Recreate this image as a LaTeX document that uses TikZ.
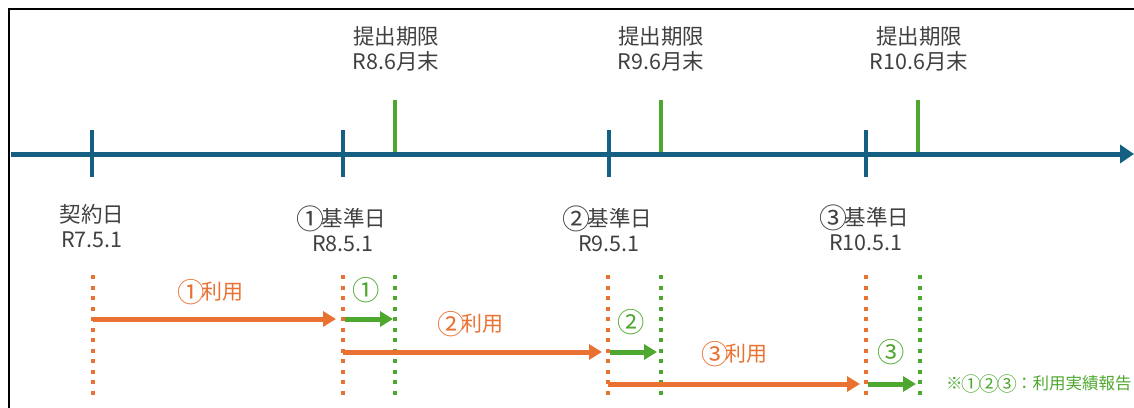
\documentclass[tikz,border=0pt]{standalone}
\usepackage{fontspec}
\setmainfont{Noto Sans CJK JP}
\usetikzlibrary{arrows.meta}
\definecolor{tlblue}{HTML}{156082}
\definecolor{ogreen}{HTML}{4EA72E}
\definecolor{oorange}{HTML}{E97132}
\definecolor{txtgray}{HTML}{404040}
\newcommand{\cnum}[1]{\hspace{-0.15em}\raisebox{-0.12em}{\scalebox{1.3}{#1}}\hspace{-0.15em}}
\newcommand{\cnumsm}[1]{\hspace{-0.06em}\raisebox{-0.1em}{\scalebox{1.2}{#1}}\hspace{-0.06em}}
\tikzset{
  lbl/.style={align=center, text=txtgray, inner sep=0pt, font=\fontsize{21.5}{25}\selectfont},
  olbl/.style={inner sep=0pt, text=oorange, font=\fontsize{21}{24}\selectfont},
  glbl/.style={inner sep=0pt, text=ogreen, font=\fontsize{21}{24}\selectfont},
  btick/.style={draw=tlblue, line width=4.5pt},
  gtick/.style={draw=ogreen, line width=4.5pt},
  odots/.style={draw=oorange, line width=4pt, dash pattern=on 4pt off 6.5pt},
  gdots/.style={draw=ogreen, line width=4pt, dash pattern=on 4pt off 6.5pt},
  oarr/.style={draw=oorange, line width=5pt, -{Triangle[length=13pt,width=15pt]}},
  garr/.style={draw=ogreen, line width=5pt, -{Triangle[length=13pt,width=15pt]}},
}
\begin{document}
\begin{tikzpicture}[x=1pt,y=-1pt]
\useasboundingbox (0,0) rectangle (1134,407);
% frame
\coordinate (fbl) at (9,420);
\coordinate (ftl) at (9,9);
\coordinate (ftr) at (1150,9);
\draw[line width=2pt, black] (fbl) -- (ftl) -- (ftr);
% timeline
\coordinate (tls) at (11,154);
\coordinate (tle) at (1134,154);
\draw[draw=tlblue, line width=5pt, -{Triangle[length=14pt,width=18pt]}] (tls) -- (tle);
% blue ticks
\foreach \n/\x in {a/92,b/343,c/609,d/866}{
  \coordinate (bt\n1) at (\x,130);
  \coordinate (bt\n2) at (\x,177);
  \draw[btick] (bt\n1) -- (bt\n2);
}
% green ticks
\foreach \n/\x in {a/395,b/661,c/918}{
  \coordinate (gt\n1) at (\x,100);
  \coordinate (gt\n2) at (\x,152);
  \draw[gtick] (gt\n1) -- (gt\n2);
}
% deadline labels
\node[lbl] (dl1) at (396,49) {提出期限\\R8.6月末};
\node[lbl] (dl2) at (661,49) {提出期限\\R9.6月末};
\node[lbl] (dl3) at (919,49) {提出期限\\R10.6月末};
% date labels
\node[lbl] (kd) at (92,226) {契約日\\R7.5.1};
\node[lbl] (k1) at (343,229) {\cnum{①}基準日\\R8.5.1};
\node[lbl] (k2) at (609,229) {\cnum{②}基準日\\R9.5.1};
\node[lbl] (k3) at (866,228) {\cnum{③}基準日\\R10.5.1};
% dotted verticals
\foreach \n/\x in {a/93,b/343,c/608,d/866}{
  \coordinate (od\n1) at (\x,275);
  \coordinate (od\n2) at (\x,400);
  \draw[odots] (od\n1) -- (od\n2);
}
\foreach \n/\x in {a/395,b/661,c/920}{
  \coordinate (gd\n1) at (\x,275);
  \coordinate (gd\n2) at (\x,400);
  \draw[gdots] (gd\n1) -- (gd\n2);
}
% arrows row 1
\coordinate (o1s) at (93,319);
\coordinate (o1e) at (336,319);
\coordinate (g1s) at (345,319);
\coordinate (g1e) at (393,319);
\draw[oarr] (o1s) -- (o1e);
\draw[garr] (g1s) -- (g1e);
% arrows row 2
\coordinate (o2s) at (343,352);
\coordinate (o2e) at (602,352);
\coordinate (g2s) at (610,352);
\coordinate (g2e) at (657,352);
\draw[oarr] (o2s) -- (o2e);
\draw[garr] (g2s) -- (g2e);
% arrows row 3
\coordinate (o3s) at (608,384);
\coordinate (o3e) at (860,384);
\coordinate (g3s) at (868,384);
\coordinate (g3e) at (916,384);
\draw[oarr] (o3s) -- (o3e);
\draw[garr] (g3s) -- (g3e);
% labels
\node[olbl] (u1) at (212,292) {\cnum{①}利用};
\node[olbl] (u2) at (472,324) {\cnum{②}利用};
\node[olbl] (u3) at (736,354) {\cnum{③}利用};
\node[glbl] (r1) at (368,290) {\cnum{①}};
\node[glbl] (r2) at (633,322) {\cnum{②}};
\node[glbl] (r3) at (893,352) {\cnum{③}};
\node[glbl, font=\fontsize{16.5}{20}\selectfont, anchor=west] (leg) at (946,384) {※\cnumsm{①}\cnumsm{②}\cnumsm{③}：利用実績報告};
\end{tikzpicture}
\end{document}
